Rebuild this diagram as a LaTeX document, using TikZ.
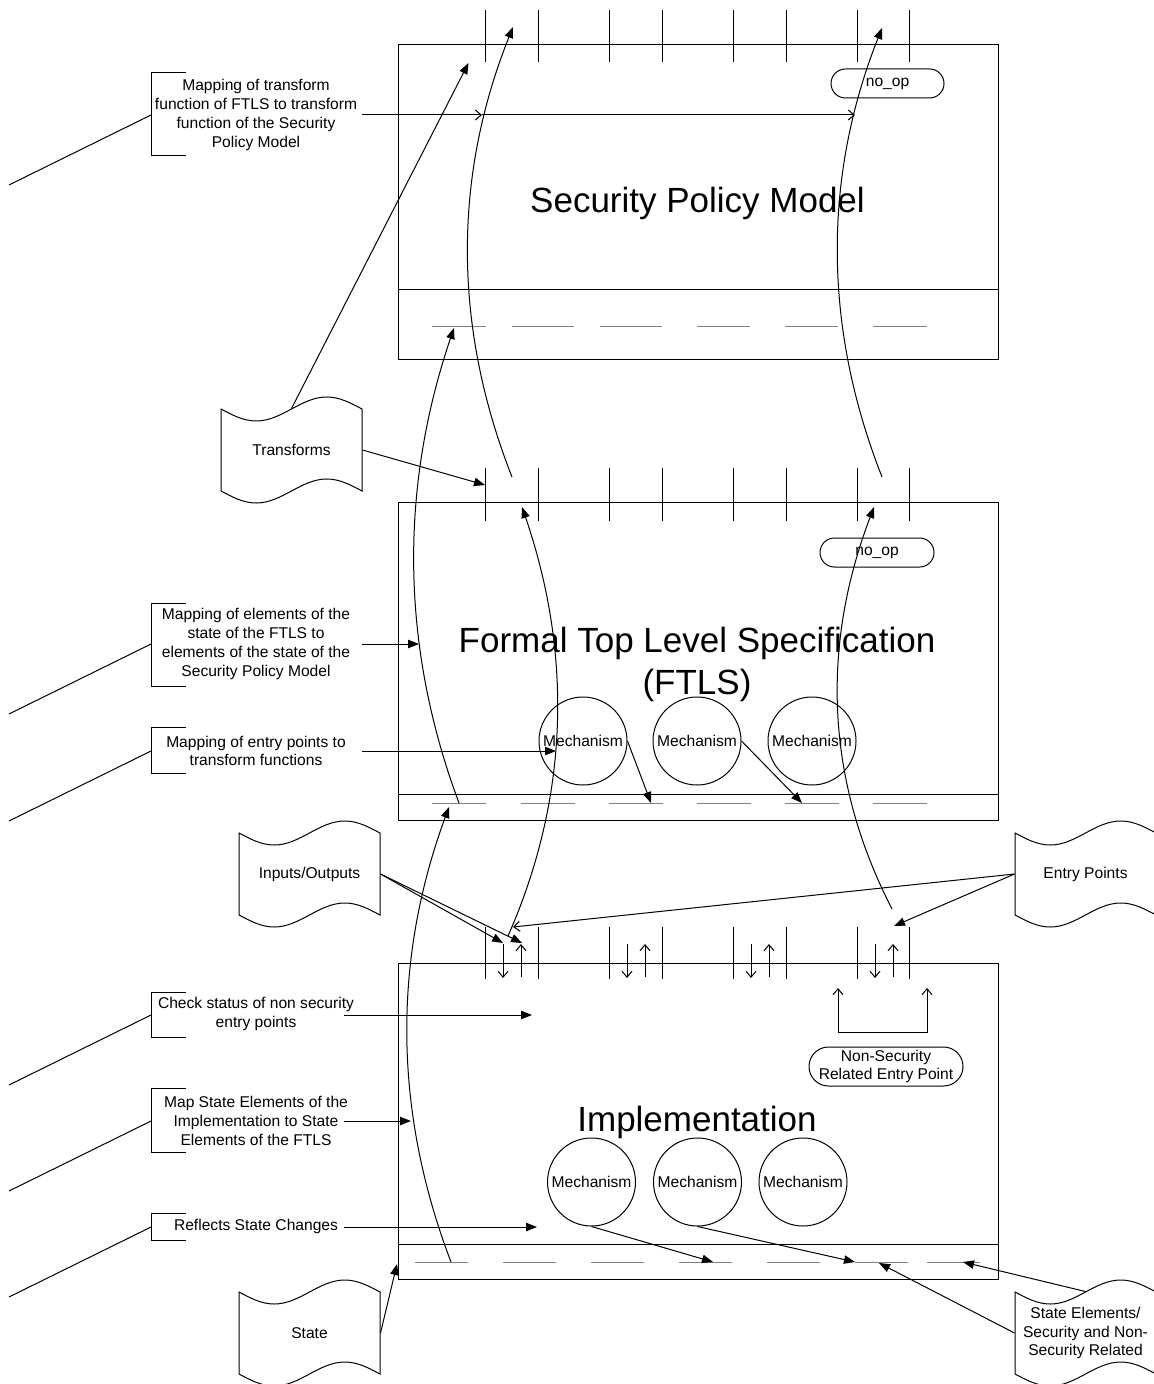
\documentclass[tikz,border=0pt]{standalone}
\usepackage{fontspec}
\setmainfont{Liberation Sans}
\usetikzlibrary{arrows.meta,shapes.misc}
\newcommand\tapeshape[2]{%
  \draw (#1,#2) sin ++(35.25,12) cos ++(35.25,-12) sin ++(35.25,-12) cos ++(35.25,12)
   -- ++(0,82) sin ++(-35.25,-12) cos ++(-35.25,12) sin ++(-35.25,12) cos ++(-35.25,-12) -- cycle;}
\newcommand\annotbr[3]{%
  \draw (186,#1) -- (151,#1) -- (151,#2) -- (186,#2);
  \draw (151,#3) -- (9,#3+70);}
\begin{document}
\begin{tikzpicture}[x=0.5pt,y=-0.5pt,line width=0.5pt,
  small/.style={font=\fontsize{7.8}{9.4}\selectfont},
  big/.style={font=\fontsize{17.5}{21}\selectfont},
  farr/.style={-{Triangle[length=5.5pt,width=4.2pt]}},
  oarr/.style={-{Straight Barb[length=3pt,width=5pt]}},
  boarr/.style={{Straight Barb[length=3pt,width=5pt]}-{Straight Barb[length=3pt,width=5pt]}},
  mech/.style={circle,draw,minimum size=44pt,inner sep=0pt,small},
  capsule/.style={rounded rectangle,draw,small,inner sep=0pt},
  tapebox/.style={rectangle,minimum width=70.5pt,minimum height=41pt,inner sep=0pt,small,align=center},
  gdash/.style={draw=gray},
  annot/.style={small,align=center,inner sep=0pt}]
\useasboundingbox (0,0) rectangle (1154,1384);

% ---- boxes
\draw (398,45) rectangle (998,360); \draw (398,290) -- (998,290);
\draw (398,503) rectangle (998,820); \draw (398,794) -- (998,794);
\draw (398,963) rectangle (998,1279); \draw (398,1244) -- (998,1244);

% ---- gray state dashes
\foreach \a/\b in {432/486,512/574,600/662,697/750,785/838,873/927} \draw[gdash] (\a,327) -- (\b,327);
\foreach \a in {432,521,609,697,785,873} \draw[gdash] (\a,803) -- ++(54,0);
\foreach \a in {415,503,591,679,767,855} \draw[gdash] (\a,1262) -- ++(53,0);
\draw[gdash] (927,1262) -- (980,1262);

% ---- entry point ticks
\foreach \x in {485,538,609,662,733,786,857,909} {
  \draw (\x,10) -- (\x,62);
  \draw (\x,468) -- (\x,521);
  \draw (\x,927) -- (\x,979);}
\foreach \x in {485,609,733,857} {
  \draw[oarr] (\x+18,944) -- (\x+18,978);
  \draw[oarr] (\x+36,977) -- (\x+36,944);}

% ---- titles
\node[big,anchor=base] (spmt) at (697.5,213) {Security Policy Model};
\node[big,align=center] (ftlst) at (697,664) {Formal Top Level Specification\\(FTLS)};
\node[big,anchor=base] (implt) at (697,1131) {Implementation};

% ---- capsules
\node[capsule,minimum width=56.5pt,minimum height=14.5pt] (noop1) at (887.5,83.5) {no\_op};
\node[capsule,minimum width=57pt,minimum height=14.5pt] (noop2) at (877,552.5) {no\_op};
\node[capsule,minimum width=77pt,minimum height=19.5pt,align=center] (nsep) at (886,1066.5) {Non-Security\\Related Entry Point};
\draw[boarr] (838,988) -- (838,1032) -- (927,1032) -- (927,988);

% ---- mechanisms
\node[mech] (fm1) at (583,741) {Mechanism};
\node[mech] (fm2) at (697,741) {Mechanism};
\node[mech] (fm3) at (812,741) {Mechanism};
\node[mech] (im1) at (591.5,1182) {Mechanism};
\node[mech] (im2) at (697.5,1182) {Mechanism};
\node[mech] (im3) at (803,1182) {Mechanism};

% ---- tapes
\tapeshape{221}{409}
\node[tapebox] (transforms) at (291.5,450) {Transforms};
\tapeshape{239}{833}
\node[tapebox] (io) at (309.5,874) {Inputs/Outputs};
\tapeshape{1015}{833}
\node[tapebox] (ep) at (1085.5,874) {Entry Points};
\tapeshape{239}{1292}
\node[tapebox] (state) at (309.5,1333) {State};
\tapeshape{1015}{1292}
\node[tapebox] (se) at (1085.5,1333) {State Elements/\\Security and Non-\\Security Related};

% ---- annotations
\annotbr{73}{156}{115}
\node[annot] (a1) at (256,115) {Mapping of transform\\function of FTLS to transform\\function of the Security\\Policy Model};
\annotbr{603}{686}{644}
\node[annot] (a2) at (256,644) {Mapping of elements of the\\state of the FTLS to\\elements of the state of the\\Security Policy Model};
\annotbr{727}{773}{751}
\node[annot] (a3) at (256,751) {Mapping of entry points to\\transform functions};
\annotbr{992}{1037}{1015}
\node[annot] (a4) at (256,1014) {Check status of non security\\entry points};
\annotbr{1088}{1152}{1121}
\node[annot] (a5) at (256,1121) {Map State Elements of the\\Implementation to State\\Elements of the FTLS};
\annotbr{1213}{1240}{1227}
\node[annot] (a6) at (256,1226) {Reflects State Changes};

% ---- coordinates
\coordinate (a1o) at (362,115); \coordinate (a1m) at (482,115); \coordinate (a1t) at (855,115);
\coordinate (a2o) at (362,644); \coordinate (a2t) at (419,644);
\coordinate (a3o) at (362,751); \coordinate (a3t) at (556,751);
\coordinate (a4o) at (344,1015); \coordinate (a4t) at (532,1015);
\coordinate (a5o) at (344,1121); \coordinate (a5t) at (411,1121);
\coordinate (a6o) at (344,1227); \coordinate (a6t) at (537,1227);

\coordinate (c1s) at (512,477); \coordinate (c1e) at (513,27);
\coordinate (c2s) at (882,477); \coordinate (c2e) at (882,28);
\coordinate (c3s) at (459,803); \coordinate (c3e) at (454,328);
\coordinate (c4s) at (451,1262); \coordinate (c4e) at (449,807);
\coordinate (c5s) at (508,936); \coordinate (c5e) at (522,507);
\coordinate (c6s) at (892,909); \coordinate (c6e) at (874,507);

\coordinate (trt1) at (485,485); \coordinate (trt2) at (468.5,63);
\coordinate (fd1) at (651,803); \coordinate (fd2) at (802,803);
\coordinate (iot1) at (503,943); \coordinate (iot2) at (522,943);
\coordinate (ept1) at (513,927); \coordinate (ept2) at (894,926);
\coordinate (id1) at (713,1262); \coordinate (id2) at (855,1262);
\coordinate (stt) at (397,1264);
\coordinate (set1) at (879,1263); \coordinate (set2) at (963,1262);

% ---- annotation arrows
\draw[oarr] (a1o) -- (a1m); \draw[oarr] (a1m) -- (a1t);
\draw[farr] (a2o) -- (a2t);
\draw[farr] (a3o) -- (a3t);
\draw[farr] (a4o) -- (a4t);
\draw[farr] (a5o) -- (a5t);
\draw[farr] (a6o) -- (a6t);

% ---- curved mappings
\draw[farr] (c1s) .. controls (453,327) and (453,177) .. (c1e);
\draw[farr] (c2s) .. controls (823,327) and (823,177) .. (c2e);
\draw[farr] (c3s) .. controls (400,645) and (400,487) .. (c3e);
\draw[farr] (c4s) .. controls (393,1110) and (393,959) .. (c4e);
\draw[farr] (c5s) .. controls (571,793) and (571,650) .. (c5e);
\draw[farr] (c6s) .. controls (823,775) and (823,641) .. (c6e);

% ---- straight connectors
\draw[farr] (transforms.east) -- (trt1);
\draw[farr] (transforms.north) -- (trt2);
\draw[farr] (fm1.east) -- (fd1);
\draw[farr] (fm2.east) -- (fd2);
\draw[farr] (io.east) -- (iot1);
\draw[farr] (io.east) -- (iot2);
\draw[oarr] (ep.west) -- (ept1);
\draw[farr] (ep.west) -- (ept2);
\draw[farr] (im1.south) -- (id1);
\draw[farr] (im2.south) -- (id2);
\draw[farr] (state.east) -- (stt);
\draw[farr] (se.west) -- (set1);
\draw[farr] (se.north) -- (set2);
\end{tikzpicture}
\end{document}
